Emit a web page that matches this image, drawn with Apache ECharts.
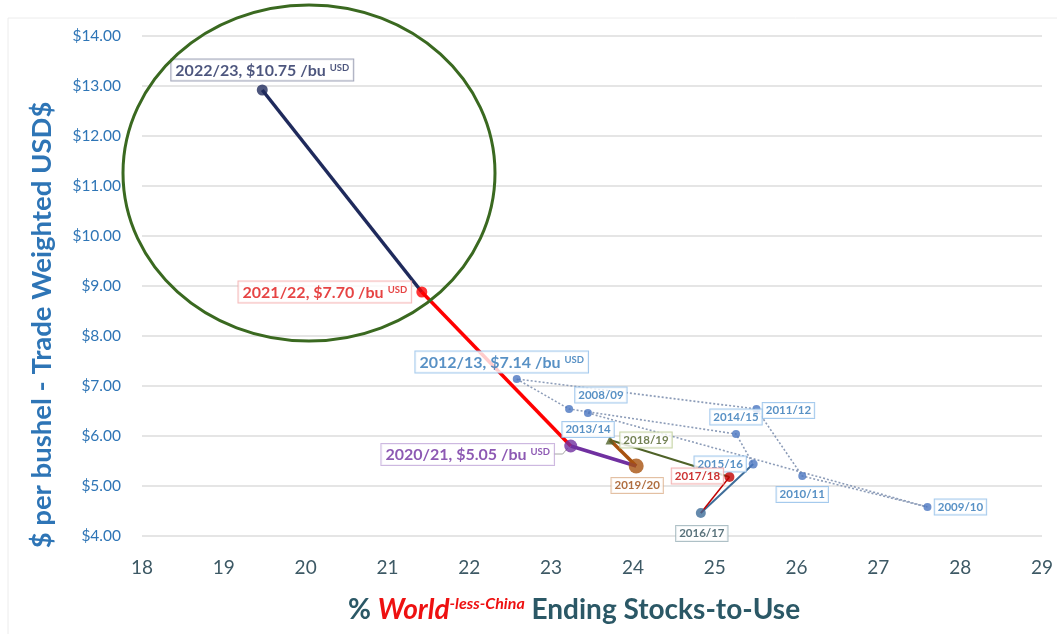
<!DOCTYPE html>
<html><head><meta charset="utf-8">
<script src="https://cdn.jsdelivr.net/npm/echarts@6/dist/echarts.min.js"></script>
<style>html,body{margin:0;padding:0;background:#fff}#c{width:1057px;height:634px}</style>
</head><body><div id="c"></div>
<script>
// ---- data ----
const years = ['2008/09','2009/10','2010/11','2011/12','2012/13','2013/14','2014/15','2015/16','2016/17','2017/18','2018/19','2019/20','2020/21','2021/22','2022/23'];
const stocksToUse = [23.45, 27.60, 26.07, 25.51, 22.58, 23.22, 25.26, 25.47, 24.83, 25.18, 23.72, 24.04, 23.24, 21.42, 19.47];
const tradeWeightedPrice = [6.46, 4.58, 5.20, 6.54, 7.14, 6.54, 6.04, 5.44, 4.46, 5.18, 5.92, 5.40, 5.80, 8.88, 12.92];
const quotedYears = ['2012/13','2020/21','2021/22','2022/23'];
const quotedPrices = ['$7.14','$5.05','$7.70','$10.75'];
const xRange = [18, 29];
const yRange = [4, 14];
const dottedYears = ['2008/09','2009/10','2010/11','2011/12','2012/13','2013/14','2014/15','2015/16'];

// ---- styles ----
const BLUE = '#2e75b6', BLUEB = '#8fbde8', DOT = '#4a76c0';
const FONT = 'Lato, "Open Sans", sans-serif';
const pointStyle = {
  '2008/09': {c: DOT, s: 8, t: BLUE, b: BLUEB, off: [13, -18]},
  '2009/10': {c: DOT, s: 8, t: BLUE, b: BLUEB, off: [33, 0]},
  '2010/11': {c: DOT, s: 8, t: BLUE, b: BLUEB, off: [0, 18.5]},
  '2011/12': {c: DOT, s: 8, t: BLUE, b: BLUEB, off: [32, 1.5]},
  '2012/13': {c: DOT, s: 8, t: BLUE, b: BLUEB, off: [-15, -17], big: true},
  '2013/14': {c: DOT, s: 8, t: BLUE, b: BLUEB, off: [19, 20.5]},
  '2014/15': {c: DOT, s: 8, t: BLUE, b: BLUEB, off: [0, -17]},
  '2015/16': {c: DOT, s: 9, t: BLUE, b: BLUEB, off: [-33, 0]},
  '2016/17': {c: '#3f6d99', s: 10, t: '#2f4f5a', b: '#9ab0b8', off: [1, 20.5]},
  '2017/18': {c: '#c00000', s: 10, t: '#c00000', b: '#f0a0a0', off: [-32, -1]},
  '2018/19': {c: '#4f6228', s: 9, t: '#4f6228', b: '#b8c98f', off: [36, 0], sym: 'triangle'},
  '2019/20': {c: '#a8520f', s: 15, t: '#9c4a10', b: '#dcb08c', off: [1, 19.5]},
  '2020/21': {c: '#7030a0', s: 13, t: '#7030a0', b: '#c0a6d8', off: [-103, 8.5], big: true},
  '2021/22': {c: '#ff0000', s: 11, t: '#e01515', b: '#f4a8a8', off: [-97, 0], big: true},
  '2022/23': {c: '#1f2a5c', s: 11, t: '#1f2a5c', b: '#8a8fa8', off: [0, -20], big: true}
};
const segmentStyles = [
  {from: '2015/16', to: '2016/17', color: '#3f6d99', width: 2},
  {from: '2016/17', to: '2017/18', color: '#c00000', width: 1.5},
  {from: '2017/18', to: '2018/19', color: '#4f6228', width: 2},
  {from: '2018/19', to: '2019/20', color: '#a8520f', width: 3.5},
  {from: '2019/20', to: '2020/21', color: '#7030a0', width: 3.5},
  {from: '2020/21', to: '2021/22', color: '#ff0000', width: 3.5},
  {from: '2021/22', to: '2022/23', color: '#1f2a5c', width: 3.5}
];

const pt = y => { const i = years.indexOf(y); return [stocksToUse[i], tradeWeightedPrice[i]]; };

const series = [];
series.push({
  type: 'line', data: dottedYears.map(pt), symbol: 'none', z: 2, silent: true,
  lineStyle: {color: '#8c9cb8', width: 1.6, type: [2, 2]}
});
segmentStyles.forEach(sg => series.push({
  type: 'line', data: [pt(sg.from), pt(sg.to)], symbol: 'none', z: 3, silent: true,
  lineStyle: {color: sg.color, width: sg.width}
}));

const scatterData = years.map((y, i) => {
  const st = pointStyle[y];
  const qi = quotedYears.indexOf(y);
  const label = {
    show: true, position: 'inside', offset: st.off,
    backgroundColor: '#fff', borderColor: st.b, borderWidth: 1,
    fontFamily: FONT, fontWeight: 'bold', color: st.t
  };
  if (qi >= 0) {
    label.formatter = `{a|${y}, ${quotedPrices[qi]} /bu}{u|USD}`;
    label.padding = [3, 4, 2, 4];
    label.rich = {
      a: {fontFamily: FONT, fontWeight: 'bold', fontSize: 16, color: st.t},
      u: {fontFamily: FONT, fontWeight: 'bold', fontSize: 9.5, color: st.t, verticalAlign: 'top', padding: [0, 0, 0, 4]}
    };
  } else {
    label.formatter = y;
    label.fontSize = 11.5;
    label.padding = [2, 3, 1, 3];
  }
  return {
    value: [stocksToUse[i], tradeWeightedPrice[i]],
    symbol: st.sym || 'circle', symbolSize: st.s,
    itemStyle: {color: st.c},
    label
  };
});
series.push({type: 'scatter', data: scatterData, z: 5, silent: true});

const chart = echarts.init(document.getElementById('c'), null, {renderer: 'canvas'});
const graphics = [
  {type: 'rect', shape: {x: 8, y: 18, width: 1100, height: 700}, style: {fill: 'none', stroke: '#ececec', lineWidth: 1}, z: -1, silent: true},
  {type: 'ellipse', shape: {cx: 309, cy: 173, rx: 186, ry: 168}, style: {fill: 'none', stroke: '#3a6920', lineWidth: 3}, z: 10, silent: true},
  {type: 'text', x: 42, y: 325, rotation: Math.PI / 2, silent: true,
    style: {text: '$ per bushel - Trade Weighted USD$', fontFamily: FONT, fontWeight: 'bold', fontSize: 27.5, fill: BLUE, align: 'center', verticalAlign: 'middle'}},
  {type: 'text', x: 574, y: 610, silent: true,
    style: {
      text: '{p|% }{w|World}{s|-less-China}{e| Ending Stocks-to-Use}',
      align: 'center', verticalAlign: 'middle',
      rich: {
        p: {fontFamily: FONT, fontWeight: 'bold', fontSize: 28, fill: '#2b5866', color: '#2b5866'},
        w: {fontFamily: FONT, fontWeight: 'bold', fontStyle: 'italic', fontSize: 28, fill: '#ee1111', color: '#ee1111'},
        s: {fontFamily: FONT, fontWeight: 'bold', fontStyle: 'italic', fontSize: 16, fill: '#ee1111', color: '#ee1111', verticalAlign: 'top'},
        e: {fontFamily: FONT, fontWeight: 'bold', fontSize: 28, fill: '#2b5866', color: '#2b5866'}
      }
    }}
];
const option = {
  backgroundColor: '#fff',
  animation: false,
  grid: {left: 142, right: 15, top: 36, bottom: 98, containLabel: false},
  xAxis: {
    type: 'value', min: xRange[0], max: xRange[1], interval: 1,
    axisLine: {show: false}, axisTick: {show: false}, splitLine: {show: false},
    axisLabel: {color: '#3d5965', fontSize: 19, fontFamily: FONT, margin: 22}
  },
  yAxis: {
    type: 'value', min: yRange[0], max: yRange[1], interval: 1,
    axisLine: {show: false}, axisTick: {show: false},
    splitLine: {lineStyle: {color: '#dcdcdc', width: 1.5}},
    axisLabel: {color: BLUE, fontSize: 15.5, fontFamily: FONT, margin: 21, formatter: v => '$' + v.toFixed(2)}
  },
  graphic: graphics,
  series
};
chart.setOption(option);
// leader line from the 2020/21 label to its point
const p2021 = chart.convertToPixel({gridIndex: 0}, pt('2020/21'));
graphics.push({type: 'polyline', silent: true, z: 4,
  shape: {points: [[p2021[0] - 18, p2021[1] + 8], [p2021[0] - 8, p2021[1] + 8], [p2021[0] - 3, p2021[1] + 2]]},
  style: {stroke: '#a6a6a6', lineWidth: 1, fill: 'none'}});
chart.setOption({graphic: graphics});
</script>
</body></html>
